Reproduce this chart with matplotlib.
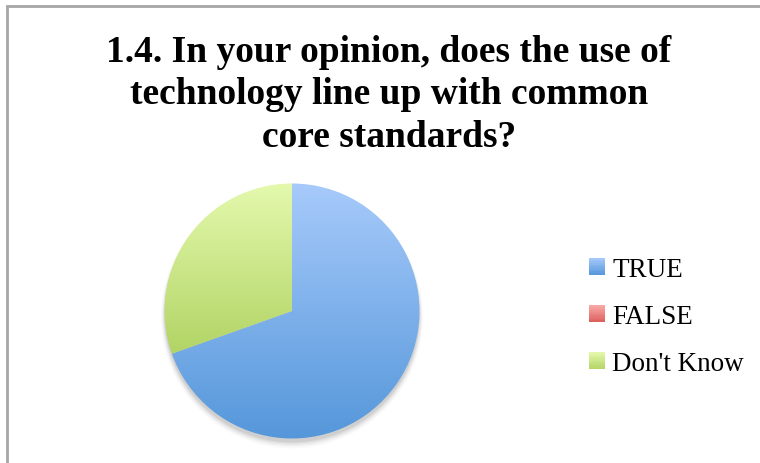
import numpy as np
import matplotlib
matplotlib.use("Agg")
import matplotlib.pyplot as plt
from matplotlib.patches import Rectangle
from matplotlib.legend_handler import HandlerBase
from matplotlib.colors import to_rgb

# ---- data ----
title = "1.4. In your opinion, does the use of\ntechnology line up with common\ncore standards?"
categories = ["TRUE", "FALSE", "Don't Know"]
values = [16, 0, 7]
top_colors = ["#a7cafb", "#f9aaa7", "#e4f9ad"]
bottom_colors = ["#5597da", "#dc5f5d", "#b2d465"]

W, H = 760, 464
fig = plt.figure(figsize=(W / 100, H / 100), dpi=100)
fig.patch.set_facecolor("white")

# outer frame (chart area border)
fig.patches.append(Rectangle((7 / W, -0.1), 1.2, (H - 7) / H + 0.1, transform=fig.transFigure,
                             fill=False, edgecolor="#a6a6a6", linewidth=2, zorder=0))

# title
fig.text(389 / W, 1 - 35 / H, title, ha="center", va="top", fontsize=27, fontweight="bold",
         family="Liberation Serif", linespacing=1.27)

# pie axes (with margin so nothing is clipped)
cx, cy, r = 292, 312, 127.5
m = 1.15
ax = fig.add_axes([(cx - m * r) / W, (H - cy - m * r) / H, 2 * m * r / W, 2 * m * r / H])
ax.set_aspect("equal")
ax.axis("off")

# subtle shadow
for k, a in enumerate(np.linspace(0.05, 0.012, 6)):
    sh = plt.Circle((0, -0.03 - 0.004 * k), 1.0 + 0.006 * k, color="black", alpha=a, lw=0, zorder=0)
    ax.add_patch(sh)

wedges, _ = ax.pie(values, startangle=90, counterclock=False, radius=1,
                   wedgeprops=dict(linewidth=0), normalize=True)


def gradient_img(top, bottom, n=256):
    t = np.linspace(0, 1, n)[:, None]
    c0 = np.array(to_rgb(top))
    c1 = np.array(to_rgb(bottom))
    img = c0[None, None, :] * (1 - t[:, :, None]) + c1[None, None, :] * t[:, :, None]
    return img


for w, tc, bc, v in zip(wedges, top_colors, bottom_colors, values):
    if v == 0:
        continue
    w.set_facecolor("none")
    verts = w.get_path().vertices
    verts = w.get_patch_transform().transform(verts)
    ymin, ymax = verts[:, 1].min(), verts[:, 1].max()
    img = gradient_img(tc, bc)
    im = ax.imshow(img, extent=(-1.01, 1.01, ymin, ymax), origin="upper", aspect="auto", zorder=2,
                   interpolation="bilinear")
    im.set_clip_path(w)
ax.set_xlim(-m, m)
ax.set_ylim(-m, m)


class GradHandler(HandlerBase):
    def __init__(self, top, bottom):
        super().__init__()
        self.top, self.bottom = top, bottom

    def create_artists(self, legend, orig_handle, xdescent, ydescent, width, height, fontsize, trans):
        arts = []
        n = 10
        c0 = np.array(to_rgb(self.top))
        c1 = np.array(to_rgb(self.bottom))
        for i in range(n):
            t = (i + 0.5) / n
            col = c0 * (1 - t) + c1 * t
            y = -ydescent + height * (1 - (i + 1) / n)
            rect = Rectangle((-xdescent, y), width, height / n + 0.05, facecolor=col,
                             edgecolor="none", transform=trans)
            arts.append(rect)
        return arts


handles = [Rectangle((0, 0), 1, 1) for _ in categories]
handler_map = {h: GradHandler(t, b) for h, t, b in zip(handles, top_colors, bottom_colors)}
leg = fig.legend(handles, categories, handler_map=handler_map, loc="upper left",
                 bbox_to_anchor=(589 / W, 1 - 258 / H), frameon=False,
                 prop=dict(family="Liberation Serif", size=19.5),
                 handlelength=0.58, handleheight=0.58, handletextpad=0.28,
                 labelspacing=0.82, borderpad=0, borderaxespad=0)

fig.savefig("out.png", dpi=100, facecolor="white")
